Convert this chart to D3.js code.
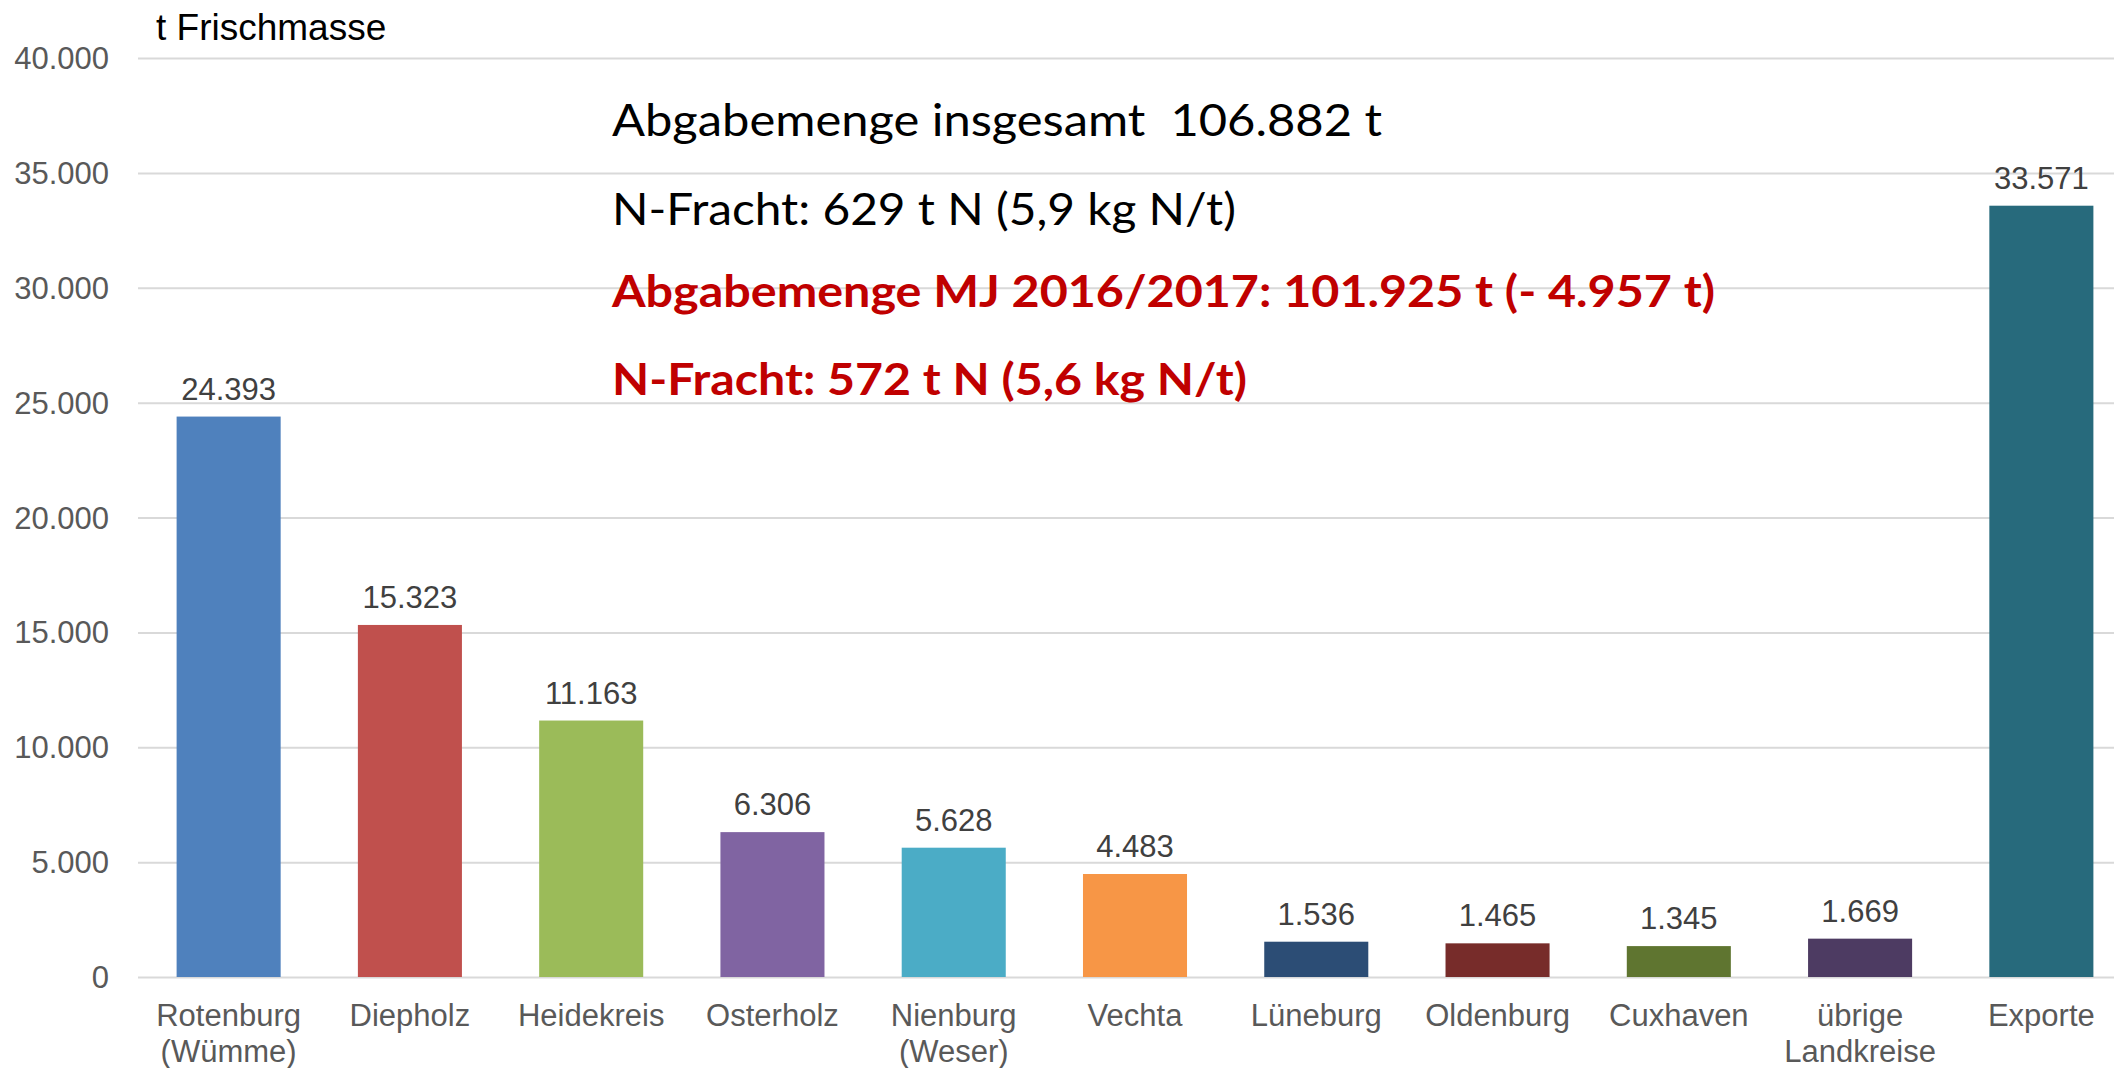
<!DOCTYPE html>
<html>
<head>
<meta charset="utf-8">
<script src="https://cdn.jsdelivr.net/npm/d3@7"></script>
<style>
  body { margin: 0; background: #fff; }
  svg { display: block; }
  .grid line { stroke: #d9d9d9; stroke-width: 2; }
  .grid path { display: none; }
</style>
</head>
<body>
<div id="chart"></div>
<script>
const WIDTH = 2114
const HEIGHT = 1068
const CATEGORIES = ['Rotenburg\n(Wümme)', 'Diepholz', 'Heidekreis', 'Osterholz', 'Nienburg\n(Weser)', 'Vechta', 'Lüneburg', 'Oldenburg', 'Cuxhaven', 'übrige\nLandkreise', 'Exporte']
const VALUES = [24393, 15323, 11163, 6306, 5628, 4483, 1536, 1465, 1345, 1669, 33571]
const COLORS = ['#4f81bd', '#c0504d', '#9bbb59', '#8064a2', '#4bacc6', '#f79646', '#2c4d75', '#772c2a', '#5f7530', '#4d3b62', '#276a7c']
const Y_TICKS = [0, 5000, 10000, 15000, 20000, 25000, 30000, 35000, 40000]
const NOTES = [
  {text: 'Abgabemenge insgesamt  106.882 t', color: '#000000', bold: false, len: 770},
  {text: 'N-Fracht: 629 t N (5,9 kg N/t)', color: '#000000', bold: false, len: 624},
  {text: 'Abgabemenge MJ 2016/2017: 101.925 t (- 4.957 t)', color: '#c00000', bold: true, len: 1103},
  {text: 'N-Fracht: 572 t N (5,6 kg N/t)', color: '#c00000', bold: true, len: 635}
]
const NOTE_BASELINES = [136, 225, 307, 395]

const AXIS_FONT = '"Liberation Sans", Arial, sans-serif'
const locale = d3.formatLocale({decimal: ',', thousands: '.', grouping: [3], currency: ['', '']})
const fmt = locale.format(',d')

const svg = d3.select('#chart').append('svg')
  .attr('width', WIDTH).attr('height', HEIGHT)

const x = d3.scaleBand().domain(d3.range(CATEGORIES.length))
  .range([138, 2132]).paddingInner(0.426).paddingOuter(0.213)
const y = d3.scaleLinear().domain([0, 40000]).range([977, 58])

// horizontal grid lines
svg.append('g').attr('class', 'grid')
  .attr('transform', 'translate(138, 0)')
  .call(d3.axisRight(y).tickValues(Y_TICKS).tickSize(WIDTH).tickFormat(''))

// y tick labels
svg.append('g').selectAll('text').data(Y_TICKS).join('text')
  .attr('x', 109).attr('y', d => y(d) + 11)
  .attr('text-anchor', 'end')
  .attr('font-family', AXIS_FONT).attr('font-size', 31).attr('fill', '#595959')
  .text(d => fmt(d))

// unit label
svg.append('text').attr('x', 156).attr('y', 40)
  .attr('font-family', AXIS_FONT).attr('font-size', 37).attr('fill', '#000')
  .text('t Frischmasse')

// bars
svg.append('g').selectAll('rect').data(VALUES).join('rect')
  .attr('x', (d, i) => x(i))
  .attr('width', x.bandwidth())
  .attr('y', d => y(d))
  .attr('height', d => y(0) - y(d))
  .attr('fill', (d, i) => COLORS[i])

// value labels
svg.append('g').selectAll('text').data(VALUES).join('text')
  .attr('x', (d, i) => x(i) + x.bandwidth() / 2)
  .attr('y', d => y(d) - 17)
  .attr('text-anchor', 'middle')
  .attr('font-family', AXIS_FONT).attr('font-size', 31).attr('fill', '#404040')
  .text(d => fmt(d))

// category labels
const cat = svg.append('g').selectAll('text').data(CATEGORIES).join('text')
  .attr('x', (d, i) => x(i) + x.bandwidth() / 2)
  .attr('y', 1026)
  .attr('text-anchor', 'middle')
  .attr('font-family', AXIS_FONT).attr('font-size', 31).attr('fill', '#595959')
cat.selectAll('tspan').data(d => d.split('\n')).join('tspan')
  .attr('x', function() { return this.parentNode.getAttribute('x') })
  .attr('dy', (d, i) => i === 0 ? 0 : 36)
  .text(d => d)

// annotation block
svg.append('g').selectAll('text').data(NOTES).join('text')
  .attr('x', 612)
  .attr('y', (d, i) => NOTE_BASELINES[i])
  .attr('font-family', 'Lato, "Open Sans", sans-serif')
  .attr('font-size', 44)
  .attr('font-weight', d => d.bold ? 700 : 400)
  .attr('fill', d => d.color)
  .attr('textLength', d => d.len)
  .attr('lengthAdjust', 'spacingAndGlyphs')
  .style('white-space', 'pre')
  .text(d => d.text)
</script>
</body>
</html>
